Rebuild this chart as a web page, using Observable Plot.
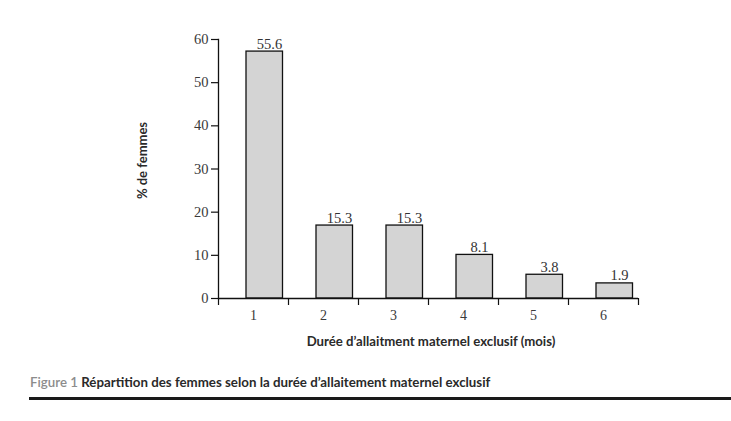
<!DOCTYPE html>
<html>
<head>
<meta charset="utf-8">
<script src="https://cdn.jsdelivr.net/npm/d3@7"></script>
<script src="https://cdn.jsdelivr.net/npm/@observablehq/plot@0.6"></script>
<style>
  html, body { margin: 0; padding: 0; background: #fff; }
  #wrap { position: relative; width: 731px; height: 421px; overflow: hidden; }
  #chart { position: absolute; left: 0; top: 0; }
  #caption { position: absolute; left: 30px; top: 374px; font-family: Lato, sans-serif; font-weight: 700; font-size: 13.3px; color: #2a2a2a; white-space: nowrap; }
  #caption .fig { color: #8c8c8c; font-weight: 600; }
  #rule { position: absolute; left: 29px; right: 0; top: 397px; height: 3px; background: #1a1a1a; }
</style>
</head>
<body>
<div id="wrap">
  <div id="chart"></div>
  <div id="caption"><span class="fig">Figure 1</span> Répartition des femmes selon la durée d’allaitement maternel exclusif</div>
  <div id="rule"></div>
</div>
<script>
const months = [1, 2, 3, 4, 5, 6];
const valueLabels = ["55.6", "15.3", "15.3", "8.1", "3.8", "1.9"];
const barHeights = [57.2, 16.9, 16.9, 10.1, 5.5, 3.5];
const yTicks = [0, 10, 20, 30, 40, 50, 60];
const xTitle = "Durée d’allaitment maternel exclusif (mois)";
const yTitle = "% de femmes";

const data = months.map((m, i) => ({month: m, height: barHeights[i], label: valueLabels[i]}));

const numFont = "'Liberation Serif', serif";

const chart = Plot.plot({
  width: 731,
  height: 362,
  marginLeft: 218,
  marginRight: 93,
  marginTop: 39,
  marginBottom: 64,
  style: {fontFamily: numFont, fontSize: "14px", color: "#333", background: "transparent"},
  x: {type: "band", domain: months, padding: 0},
  y: {domain: [0, 60]},
  marks: [
    Plot.barY(data, {x: "month", y: "height", fill: "#d4d4d4", stroke: "#111", strokeWidth: 1.3, insetLeft: 28, insetRight: 5.5}),
    Plot.text(data, {x: "month", y: "height", text: "label", dx: 16, dy: -3, lineAnchor: "bottom", fontSize: 14.5, fill: "#333", fontFamily: numFont}),
    Plot.ruleY([0], {stroke: "#111", strokeWidth: 1.3}),
    Plot.frame({anchor: "left", stroke: "#111", strokeWidth: 1.3}),
    Plot.axisY({ticks: yTicks, tickSize: 7, tickPadding: 3, label: null, fontSize: 14.5, stroke: "#111", strokeWidth: 1.2, fill: "#3a3a3a"}),
    Plot.axisX({tickSize: 0, tickPadding: 12, label: null, fontSize: 14, fill: "#3a3a3a"}),
    Plot.axisX({tickSize: 7, tickFormat: () => "", label: null, dx: 35, stroke: "#111", strokeWidth: 1.2}),
    Plot.axisX({ticks: [1], tickSize: 7, tickFormat: () => "", label: null, dx: -35, stroke: "#111", strokeWidth: 1.2})
  ]
});
document.getElementById("chart").appendChild(chart);

// axis titles as SVG text, positioned via the chart's own scales
const svg = d3.select(chart);
const xs = chart.scale("x");
const ys = chart.scale("y");
const xMid = (xs.range[0] + xs.range[1]) / 2;
const yMid = (ys.apply(0) + ys.apply(60)) / 2;
svg.append("text")
  .attr("x", xMid + 3).attr("y", ys.apply(0) + 48)
  .attr("text-anchor", "middle")
  .attr("font-family", "Lato, sans-serif").attr("font-weight", 700).attr("font-size", "13.2px").attr("fill", "#2a2a2a")
  .text(xTitle);
svg.append("text")
  .attr("transform", `translate(${147},${yMid - 8}) rotate(-90)`)
  .attr("text-anchor", "middle")
  .attr("font-family", "Lato, sans-serif").attr("font-weight", 700).attr("font-size", "13px").attr("fill", "#2a2a2a")
  .text(yTitle);
</script>
</body>
</html>
